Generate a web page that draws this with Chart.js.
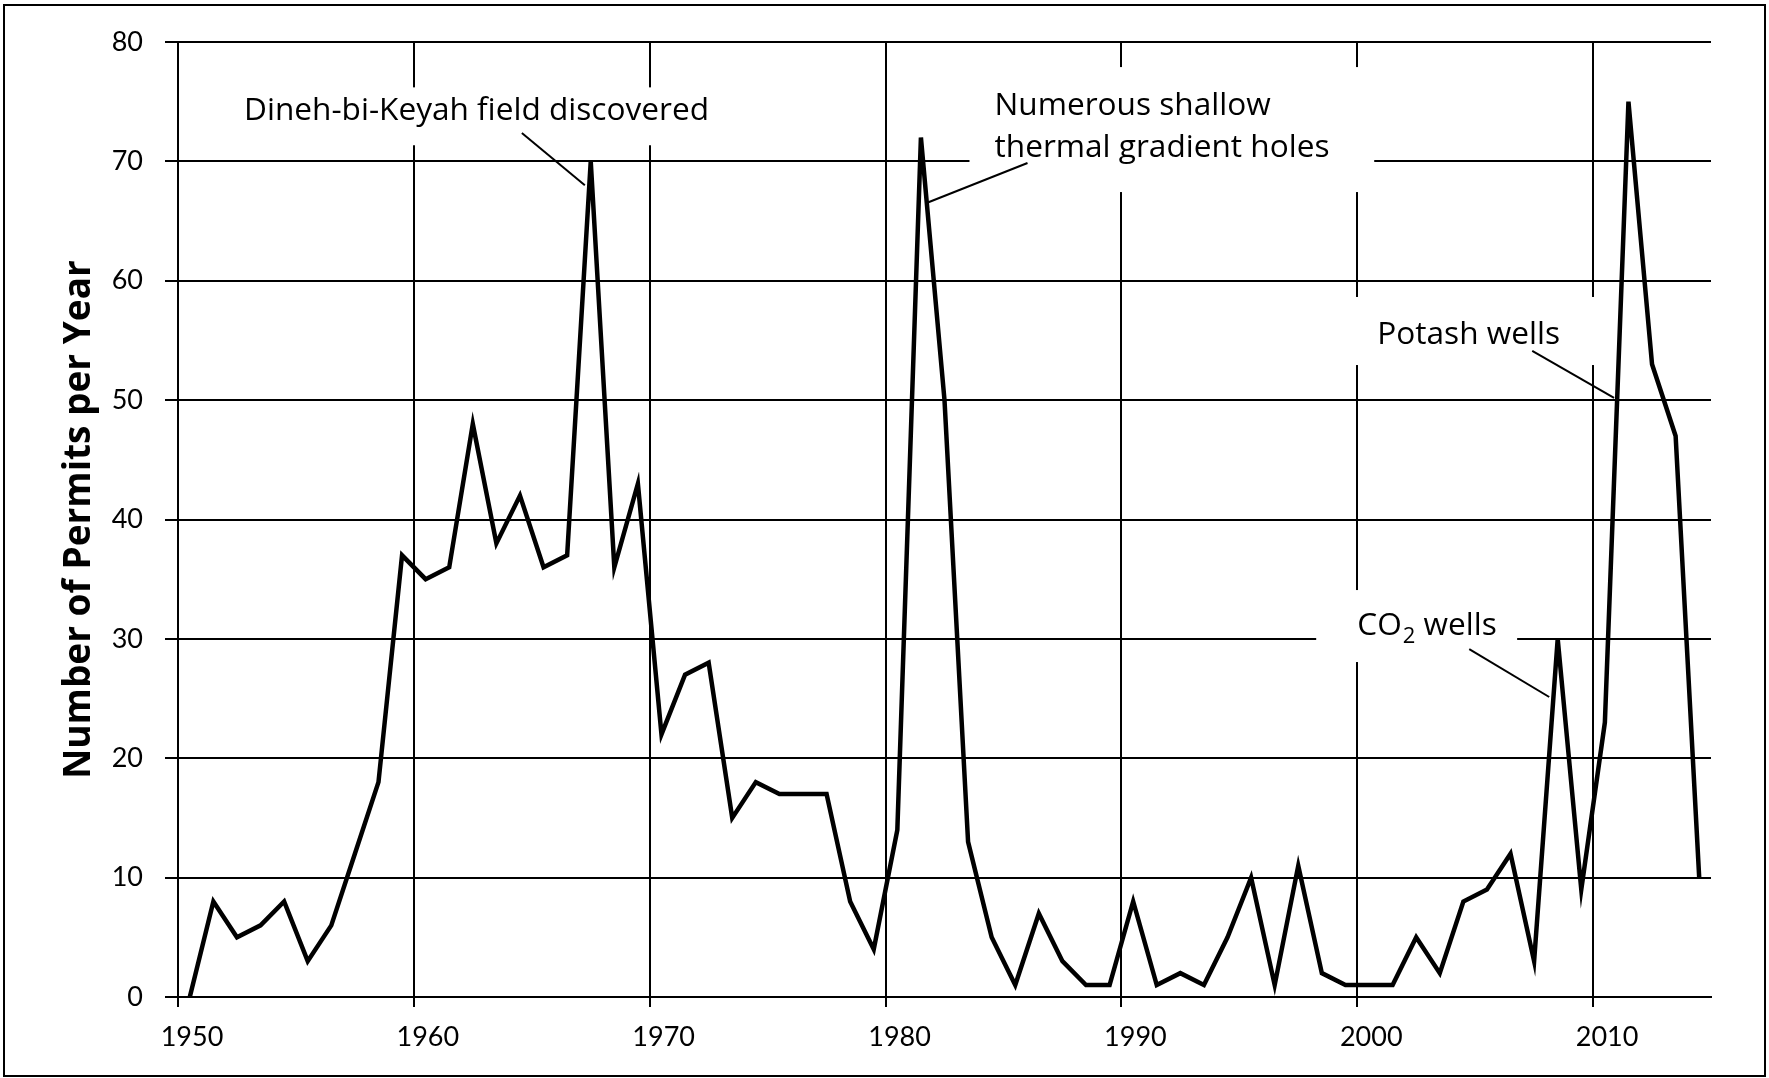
<!DOCTYPE html>
<html>
<head>
<meta charset="utf-8">
<script src="https://cdn.jsdelivr.net/npm/chart.js@4.4.1/dist/chart.umd.min.js"></script>
<style>
  html, body { margin: 0; padding: 0; background: #fff; }
  canvas { display: block; }
</style>
</head>
<body>
<canvas id="permitChart" width="1769" height="1078"></canvas>
<script>
// permits issued per year, 1950-2014
const years = [];
for (let y = 1950; y <= 2014; y++) years.push(y);
const permits = [
  0, 8, 5, 6, 8, 3, 6, 12, 18, 37,
  35, 36, 48, 38, 42, 36, 37, 70, 36, 43,
  22, 27, 28, 15, 18, 17, 17, 17, 8, 4,
  14, 72, 50, 13, 5, 1, 7, 3, 1, 1,
  8, 1, 2, 1, 5, 10, 1, 11, 2, 1,
  1, 1, 5, 2, 8, 9, 12, 3, 30, 9,
  23, 75, 53, 47, 10
];
const xTicks = [1950, 1960, 1970, 1980, 1990, 2000, 2010];
const yTicks = [0, 10, 20, 30, 40, 50, 60, 70, 80];

// callouts, placed in data units: white box, text lines, leader line
const notes = [
  { box: [1952.4, 76.2, 1973.0, 71.35], at: [1952.8, 73.47], lines: ['Dineh-bi-Keyah field discovered'],
    lead: [1964.58, 72.38, 1967.25, 68.0] },
  { box: [1983.56, 77.9, 2000.72, 67.43], at: [1984.62, 73.88], lines: ['Numerous shallow', 'thermal gradient holes'],
    lead: [1986.02, 69.86, 1981.74, 66.51] },
  { box: [1999.45, 58.64, 2010.25, 52.94], at: [2000.85, 54.7], lines: ['Potash wells'],
    lead: [2007.42, 54.12, 2010.89, 50.18] },
  { box: [1998.26, 34.09, 2006.78, 28.06], at: [2000.0, 30.33], lines: ['CO|2| wells'],
    lead: [2004.75, 29.15, 2008.14, 25.13] }
];

const noteFont = '31.6px "Open Sans"';
const subFont = '22px "Open Sans"';

const notesPlugin = {
  id: 'notes',
  beforeDatasetsDraw(chart) {
    const c = chart.ctx, sx = chart.scales.x, sy = chart.scales.y;
    c.save();
    notes.forEach(n => {
      const x0 = sx.getPixelForValue(n.box[0]), y0 = sy.getPixelForValue(n.box[1]);
      const x1 = sx.getPixelForValue(n.box[2]), y1 = sy.getPixelForValue(n.box[3]);
      c.fillStyle = '#fff';
      c.fillRect(x0, y0, x1 - x0, y1 - y0);

      c.fillStyle = '#000';
      c.textBaseline = 'alphabetic';
      c.textAlign = 'left';
      let tx = sx.getPixelForValue(n.at[0]);
      let ty = sy.getPixelForValue(n.at[1]);
      n.lines.forEach(line => {
        const parts = line.split('|');
        let px = tx;
        parts.forEach((p, k) => {
          if (k % 2 === 1) {
            // subscript
            c.font = subFont;
            c.fillText(p, px + 1, ty + 8);
            px += c.measureText(p).width + 1;
          } else {
            c.font = noteFont;
            c.fillText(p, px, ty);
            px += c.measureText(p).width;
          }
        });
        ty += 42;
      });

      c.strokeStyle = '#000';
      c.lineWidth = 2;
      c.beginPath();
      c.moveTo(sx.getPixelForValue(n.lead[0]), sy.getPixelForValue(n.lead[1]));
      c.lineTo(sx.getPixelForValue(n.lead[2]), sy.getPixelForValue(n.lead[3]));
      c.stroke();
    });
    c.restore();
  }
};

const framePlugin = {
  id: 'frame',
  afterDraw(chart) {
    const c = chart.ctx;
    c.save();
    c.strokeStyle = '#000';
    c.lineWidth = 2;
    c.strokeRect(4, 5, chart.width - 8, chart.height - 7);
    c.restore();
  }
};

const ctx = document.getElementById('permitChart');

new Chart(ctx, {
  type: 'line',
  data: {
    datasets: [{
      label: 'Permits',
      data: years.map((y, i) => ({ x: y + 0.5, y: permits[i] })),
      borderColor: '#000',
      borderWidth: 4.5,
      borderJoinStyle: 'miter',
      pointRadius: 0,
      tension: 0,
      fill: false
    }]
  },
  options: {
    responsive: false,
    animation: false,
    devicePixelRatio: 1,
    layout: { padding: { top: 42, right: 58, left: 0, bottom: 0 } },
    plugins: {
      legend: { display: false },
      tooltip: { enabled: false }
    },
    scales: {
      x: {
        type: 'linear',
        min: 1950,
        max: 2015,
        afterBuildTicks: s => { s.ticks = xTicks.map(v => ({ value: v })); },
        afterFit: s => { s.height = 81; },
        grid: { color: '#000', lineWidth: 2, tickLength: 10 },
        border: { color: '#000', width: 2 },
        ticks: {
          color: '#000',
          font: { family: 'Lato', size: 27 },
          padding: 14,
          labelOffset: 14,
          maxRotation: 0,
          autoSkip: false,
          callback: v => String(v)
        }
      },
      y: {
        min: 0,
        max: 80,
        afterBuildTicks: s => { s.ticks = yTicks.map(v => ({ value: v })); },
        afterFit: s => { s.width = 178; },
        grid: { color: '#000', lineWidth: 2, tickLength: 13 },
        border: { color: '#000', width: 2 },
        ticks: {
          color: '#000',
          font: { family: 'Lato', size: 27 },
          padding: 22
        },
        title: {
          display: true,
          text: 'Number of Permits per Year',
          color: '#000',
          font: { family: 'Open Sans', size: 37, weight: 'bold' },
          padding: { top: 57, bottom: 0 }
        }
      }
    }
  },
  plugins: [notesPlugin, framePlugin]
});
</script>
</body>
</html>
